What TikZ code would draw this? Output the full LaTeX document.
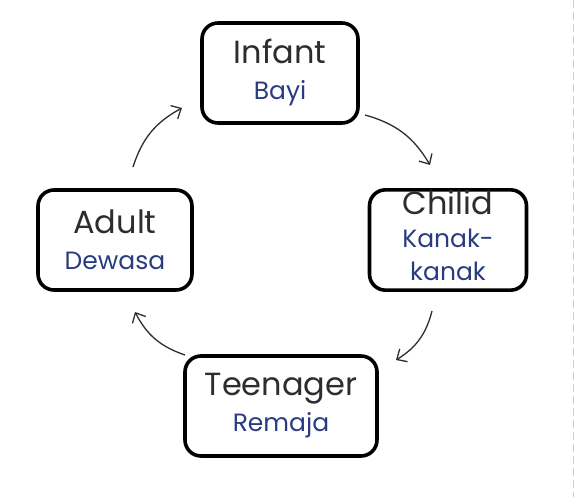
\documentclass[tikz,border=0pt]{standalone}
\usepackage{fontspec}
\setmainfont{Poppins}
\usetikzlibrary{arrows.meta}
\definecolor{stagegray}{RGB}{45,45,45}
\definecolor{stageblue}{RGB}{42,60,128}
\definecolor{edgeblue}{RGB}{200,210,224}
\newcommand{\malayfont}{\fontsize{25}{30}\selectfont\color{stageblue}}

\begin{document}
\begin{tikzpicture}[x=1pt,y=-1pt,
  stage/.style={draw, line width=3.6pt, rounded corners=16pt, minimum height=100pt, align=center, inner sep=0pt, text=stagegray, font=\fontsize{32}{36}\selectfont},
  lifearrow/.style={-{Straight Barb[length=8pt,width=15pt]}, line width=1.3pt, stagegray, bend left=22}]
\useasboundingbox (0,0) rectangle (574,497);
\draw [edgeblue, line width=1pt, dash pattern=on 8pt off 4pt] (573,0) -- (573,497);

\node [stage, minimum width=156pt] (infant) at (280,73) {Infant\\\malayfont Bayi};
\node [stage, minimum width=157pt, text depth=10pt, font=\fontsize{32}{33}\selectfont] (child) at (448,240) {Chilid\\\malayfont Kanak-\\\malayfont kanak};
\node [stage, minimum width=154pt] (adult) at (115,240) {Adult\\\malayfont Dewasa};
\node [stage, minimum width=192pt] (teen) at (281,406) {Teenager\\\malayfont Remaja};

\coordinate (a1) at (365,115);
\coordinate (a2) at (430,165);
\coordinate (b1) at (432,311);
\coordinate (b2) at (396,360);
\coordinate (c1) at (185,355);
\coordinate (c2) at (135,312);
\coordinate (d1) at (133,167);
\coordinate (d2) at (182,108);

\draw [lifearrow] (a1) to (a2);
\draw [lifearrow] (b1) to (b2);
\draw [lifearrow] (c1) to (c2);
\draw [lifearrow] (d1) to (d2);
\end{tikzpicture}
\end{document}
